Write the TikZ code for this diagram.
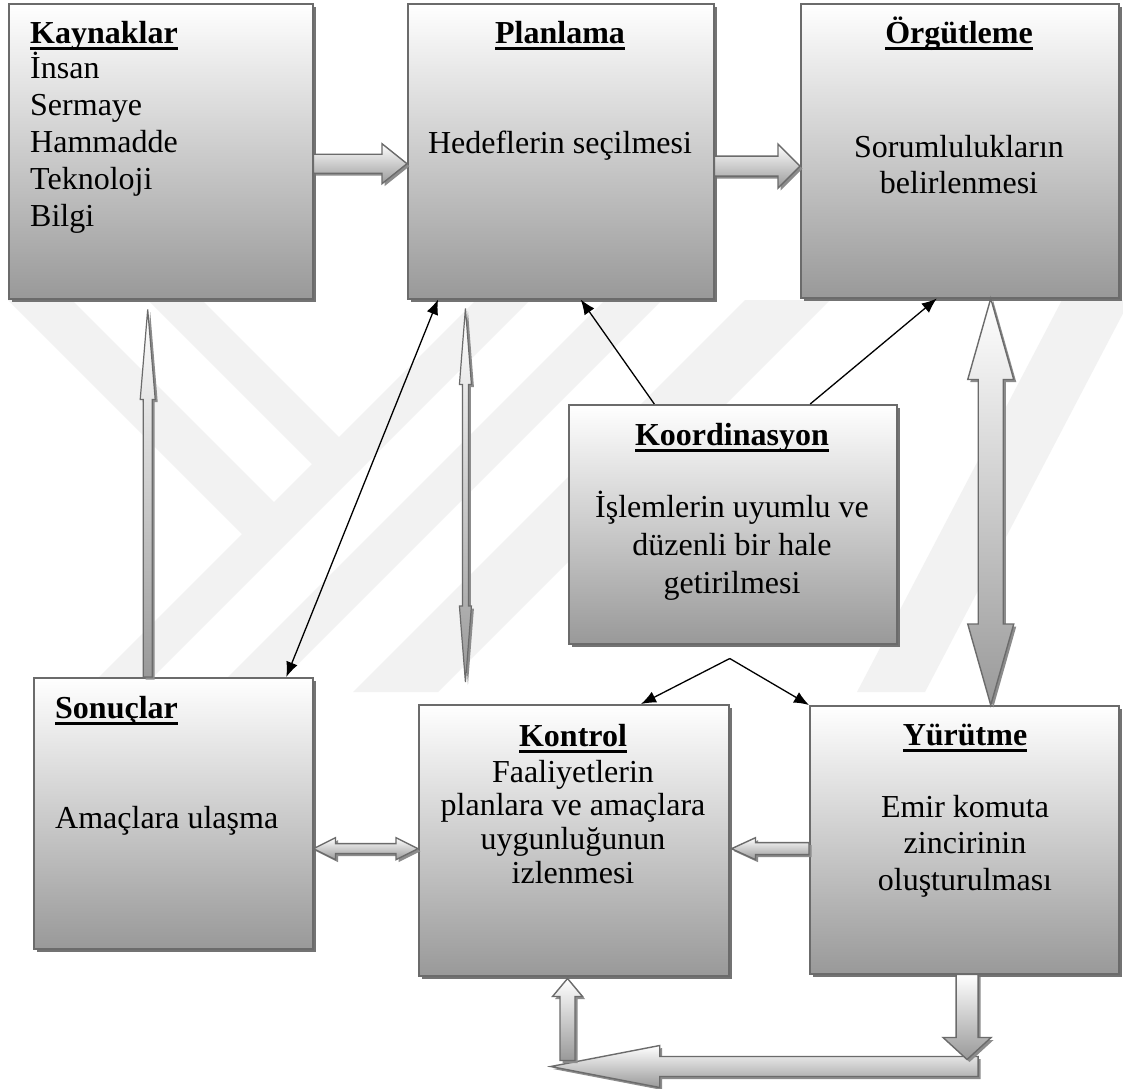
\documentclass[tikz,border=0pt]{standalone}
\usepackage{fontspec}
\setmainfont{Liberation Serif}
\usetikzlibrary{calc,arrows.meta,shadows}

% bold heading with a thick underline
\newcommand\ulhead[1]{\setbox0=\hbox{#1}\rlap{\rule[-7pt]{\wd0}{2.6pt}}\box0}
% multi-line text blocks, baseline at the first line
\newcommand\cblock[1]{\parbox[t]{320pt}{\centering #1}}
\newcommand\lblock[1]{\parbox[t]{270pt}{\raggedright #1}}

% block arrow outlines (tail, tip, shaft half-width, head half-width, head length)
\newcommand\harrowpath[5]{%
  let \p1=(#1), \p2=(#2), \n1={sign(\x2-\x1)} in
  ({\x1},{\y1+#3}) -- ({\x2-(\n1)*#5},{\y1+#3}) -- ({\x2-(\n1)*#5},{\y1+#4}) -- ({\x2},{\y1})
  -- ({\x2-(\n1)*#5},{\y1-#4}) -- ({\x2-(\n1)*#5},{\y1-#3}) -- ({\x1},{\y1-#3}) -- cycle}
\newcommand\hdarrowpath[5]{%
  let \p1=(#1), \p2=(#2) in
  ({\x1},{\y1}) -- ({\x1+#5},{\y1+#4}) -- ({\x1+#5},{\y1+#3}) -- ({\x2-#5},{\y1+#3}) -- ({\x2-#5},{\y1+#4})
  -- ({\x2},{\y1}) -- ({\x2-#5},{\y1-#4}) -- ({\x2-#5},{\y1-#3}) -- ({\x1+#5},{\y1-#3}) -- ({\x1+#5},{\y1-#4}) -- cycle}
\newcommand\varrowpath[5]{%
  let \p1=(#1), \p2=(#2), \n1={sign(\y2-\y1)} in
  ({\x1-#3},{\y1}) -- ({\x1-#3},{\y2-(\n1)*#5}) -- ({\x1-#4},{\y2-(\n1)*#5}) -- ({\x1},{\y2})
  -- ({\x1+#4},{\y2-(\n1)*#5}) -- ({\x1+#3},{\y2-(\n1)*#5}) -- ({\x1+#3},{\y1}) -- cycle}
\newcommand\vdarrowpath[5]{%
  let \p1=(#1), \p2=(#2) in
  ({\x1},{\y1}) -- ({\x1+#4},{\y1-#5}) -- ({\x1+#3},{\y1-#5}) -- ({\x1+#3},{\y2+#5}) -- ({\x1+#4},{\y2+#5})
  -- ({\x1},{\y2}) -- ({\x1-#4},{\y2+#5}) -- ({\x1-#3},{\y2+#5}) -- ({\x1-#3},{\y1-#5}) -- ({\x1-#4},{\y1-#5}) -- cycle}

\tikzset{
  box/.style={rectangle, draw=black!58, line width=1.5pt, top color=white, bottom color=black!40,
    anchor=north west, inner sep=0pt,
    drop shadow={shadow xshift=3pt, shadow yshift=-3pt, opacity=1, fill=black!55}},
  blockarrow/.style={draw=black!58, line width=1.4pt, line join=miter, top color=white, bottom color=black!40,
    drop shadow={shadow xshift=2.5pt, shadow yshift=-2.5pt, opacity=1, fill=black!45}},
  thinarrow/.style={blockarrow, line width=1.2pt},
  conn/.style={draw=black, line width=1.3pt},
  tipboth/.style={{Latex[length=15pt,width=12pt]}-{Latex[length=15pt,width=12pt]}},
  tipend/.style={-{Latex[length=15pt,width=12pt]}},
  hdtext/.style={inner sep=0pt, anchor=base, font=\bfseries\fontsize{32}{37}\selectfont},
  bdtext/.style={inner sep=0pt, anchor=base, font=\fontsize{32}{37}\selectfont},
  wmark/.style={fill=black!5},
}

\begin{document}
\begin{tikzpicture}[x=1pt,y=-1pt]
\fill[white] (0,0) rectangle (1123,1088);
\useasboundingbox (0,0) rectangle (1123,1088);

% faint background logo
\fill[wmark] (8,300) -- (72,300) -- (287.5,515.5) -- (255.5,547.5) -- cycle;
\fill[wmark] (148,300) -- (202,300) -- (352.5,450.5) -- (325.5,477.5) -- cycle;
\fill[wmark] (476,300) -- (530,300) -- (138,692) -- (84,692) -- cycle;
\fill[wmark] (605,300) -- (662,300) -- (270,692) -- (213,692) -- cycle;
\fill[wmark] (745,300) -- (830,300) -- (438,692) -- (353,692) -- cycle;
\fill[wmark] (1062,300) -- (1130,300) -- (925,692) -- (857,692) -- cycle;

% boxes
\node[box, minimum width=304pt, minimum height=295pt] (kay) at (8,3) {};
\node[box, minimum width=306pt, minimum height=295pt] (pla) at (407,3) {};
\node[box, minimum width=318pt, minimum height=294pt] (org) at (800,3) {};
\node[box, minimum width=328pt, minimum height=239pt] (koo) at (568,404) {};
\node[box, minimum width=279pt, minimum height=271pt] (son) at (33,677) {};
\node[box, minimum width=310pt, minimum height=271pt] (kon) at (418,704) {};
\node[box, minimum width=309pt, minimum height=268pt] (yur) at (809,705) {};

% texts
\node[hdtext, anchor=base west] (kayh) at (30,43) {\ulhead{Kaynaklar}};
\node[bdtext, anchor=base west] (kayb) at (30,78) {\lblock{İnsan\\Sermaye\\Hammadde\\Teknoloji\\Bilgi}};
\node[hdtext] (plah) at (560,43) {\ulhead{Planlama}};
\node[bdtext] (plab) at (560,153) {\cblock{Hedeflerin seçilmesi}};
\node[hdtext] (orgh) at (959,43) {\ulhead{Örgütleme}};
\node[bdtext, font=\fontsize{32}{36}\selectfont] (orgb) at (959,157) {\cblock{Sorumlulukların\\belirlenmesi}};
\node[hdtext] (kooh) at (732,445) {\ulhead{Koordinasyon}};
\node[bdtext, font=\fontsize{32}{38}\selectfont] (koob) at (732,517) {\cblock{İşlemlerin uyumlu ve\\düzenli bir hale\\getirilmesi}};
\node[hdtext, anchor=base west] (sonh) at (55,718) {\ulhead{Sonuçlar}};
\node[bdtext, anchor=base west] (sonb) at (55,828) {\lblock{Amaçlara ulaşma}};
\node[hdtext] (konh) at (573,746) {\ulhead{Kontrol}};
\node[bdtext, font=\fontsize{32}{33.7}\selectfont] (konb) at (573,782) {\cblock{Faaliyetlerin\\planlara ve amaçlara\\uygunluğunun\\izlenmesi}};
\node[hdtext] (yurh) at (965,745) {\ulhead{Yürütme}};
\node[bdtext, font=\fontsize{32}{36.5}\selectfont] (yurb) at (965,817) {\cblock{Emir komuta\\zincirinin\\oluşturulması}};

% block arrows
\coordinate (a1) at ($(kay.north east)!0.542!(kay.south east)$);
\coordinate (a1t) at (pla.west |- a1);
\path[blockarrow] \harrowpath{a1}{a1t}{9.5pt}{20pt}{25pt};

\coordinate (a2) at ($(pla.north east)!0.55!(pla.south east)$);
\coordinate (a2t) at (org.west |- a2);
\path[blockarrow] \harrowpath{a2}{a2t}{10pt}{22pt}{22pt};

\coordinate (a3) at ($(org.south west)!0.597!(org.south east)$);
\coordinate (a3b) at (a3 |- yur.north);
\path[blockarrow] \vdarrowpath{a3}{a3b}{12.5pt}{23pt}{81pt};

\coordinate (a4) at ($(son.north west)!0.409!(son.north east)$);
\coordinate (a4t) at ($(a4 |- kay.south)+(0,10)$);
\path[thinarrow] \varrowpath{a4}{a4t}{4.5pt}{7.5pt}{90pt};

\coordinate (a5) at ($(pla.south west)!0.19!(pla.south east)+(0,9)$);
\coordinate (a5b) at ($(a5 |- kon.north)+(0,-22)$);
\path[thinarrow] \vdarrowpath{a5}{a5b}{3pt}{6pt}{76pt};

\coordinate (a6) at ($(son.north east)!0.63!(son.south east)$);
\coordinate (a6r) at (kon.west |- a6);
\path[blockarrow] \hdarrowpath{a6}{a6r}{5pt}{11pt}{22pt};

\coordinate (a7) at (yur.west |- a6);
\coordinate (a7t) at ($(kon.east |- a6)+(2,0)$);
\path[blockarrow] \harrowpath{a7}{a7t}{6pt}{11pt}{24pt};

\coordinate (a8) at ($(yur.south west)!0.509!(yur.south east)$);
\coordinate (a8t) at ($(a8)+(0,85)$);
\coordinate (a9) at ($(a8)+(11,92)$);
\coordinate (a9s) at ($(kon.south west)!0.426!(kon.south east)$);
\coordinate (a9t) at (a9s |- a9);
\path[blockarrow] \harrowpath{a9}{a9t}{10pt}{21pt}{109pt};
\path[blockarrow] \varrowpath{a8}{a8t}{11pt}{24pt}{22pt};

\coordinate (a10t) at ($(kon.south west)!0.48!(kon.south east)+(0,2)$);
\coordinate (a10) at ($(a10t |- a9)+(0,-6)$);
\path[blockarrow] \varrowpath{a10}{a10t}{7.5pt}{15pt}{18pt};

% line connectors
\draw[conn, tipboth] ($(pla.south west)!0.101!(pla.south east)$) -- ($(son.north west)!0.903!(son.north east)$);
\draw[conn, tipend] ($(koo.north west)!0.262!(koo.north east)$) -- ($(pla.south west)!0.565!(pla.south east)$);
\draw[conn, tipend] ($(koo.north west)!0.735!(koo.north east)$) -- ($(org.south west)!0.428!(org.south east)$);
\coordinate (split) at ($(koo.south)+(-3,14)$);
\draw[conn, tipend] (split) -- ($(kon.north west)!0.716!(kon.north east)$);
\draw[conn, tipend] (split) -- (yur.north west);
\end{tikzpicture}
\end{document}
